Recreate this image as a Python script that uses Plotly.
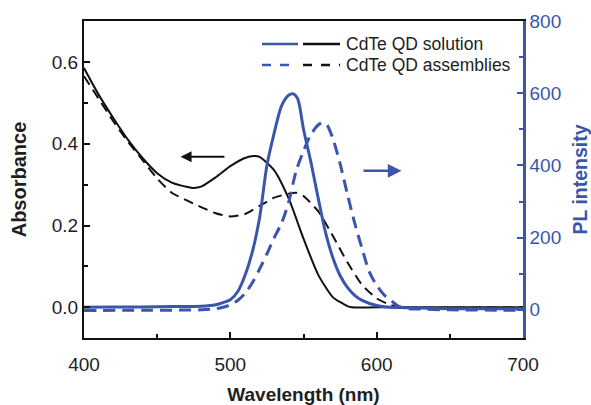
import plotly.graph_objects as go

# Absorbance (left axis)
abs_sol_x = [400, 410, 420, 430, 440, 450, 460, 470, 475, 480, 490, 500, 510, 516, 520, 530, 540, 550, 560, 570, 580, 583, 600, 650, 700]
abs_sol_y = [0.585, 0.52, 0.463, 0.41, 0.365, 0.328, 0.305, 0.295, 0.292, 0.295, 0.318, 0.345, 0.365, 0.37, 0.368, 0.335, 0.265, 0.168, 0.08, 0.025, 0.003, 0.0, 0.0, 0.0, 0.0]

abs_asm_x = [400, 410, 420, 430, 440, 450, 460, 470, 480, 490, 500, 510, 520, 530, 540, 545, 550, 560, 570, 580, 590, 600, 610, 620, 700]
abs_asm_y = [0.565, 0.51, 0.455, 0.405, 0.36, 0.315, 0.28, 0.262, 0.245, 0.23, 0.222, 0.228, 0.248, 0.268, 0.278, 0.28, 0.272, 0.235, 0.175, 0.11, 0.055, 0.022, 0.005, 0.0, 0.0]

# PL intensity (right axis)
pl_sol_x = [400, 420, 440, 460, 480, 490, 495, 500, 505, 510, 515, 520, 525, 530, 535, 540, 543, 546, 550, 555, 560, 565, 570, 575, 580, 585, 590, 600, 610, 620, 640, 660, 700]
pl_sol_y = [7, 8, 8, 9, 10, 14, 20, 28, 50, 95, 160, 255, 400, 490, 565, 595, 598, 585, 500, 410, 310, 215, 145, 95, 62, 40, 26, 12, 7, 6, 4, 3, 3]

pl_asm_x = [400, 440, 480, 490, 495, 500, 505, 510, 515, 520, 525, 530, 535, 540, 545, 550, 555, 560, 563, 566, 570, 575, 580, 585, 590, 595, 600, 605, 610, 615, 620, 630, 650, 700]
pl_asm_y = [-2, -1, 0, 3, 7, 14, 26, 45, 75, 113, 155, 200, 240, 300, 385, 440, 485, 512, 518, 512, 475, 405, 320, 240, 170, 105, 68, 42, 25, 10, 4, 2, 0, -1]

x_ticks = [400, 500, 600, 700]
abs_ticks = [0.0, 0.2, 0.4, 0.6]
pl_ticks = [0, 200, 400, 600, 800]

BLUE = "#3B55AC"
BLACK = "#111111"
TXT = "#1e1e1e"
FONT = "Liberation Sans, Arial, sans-serif"

fig = go.Figure()
fig.add_trace(go.Scatter(x=abs_sol_x, y=abs_sol_y, mode="lines", line=dict(color=BLACK, width=2, shape="spline", smoothing=0.6), name="CdTe QD solution", showlegend=False))
fig.add_trace(go.Scatter(x=abs_asm_x, y=abs_asm_y, mode="lines", line=dict(color=BLACK, width=2, dash="10px,6px", shape="spline", smoothing=0.6), name="CdTe QD assemblies", showlegend=False))
fig.add_trace(go.Scatter(x=pl_sol_x, y=pl_sol_y, mode="lines", line=dict(color=BLUE, width=3, shape="spline", smoothing=0.8), yaxis="y2", showlegend=False))
fig.add_trace(go.Scatter(x=pl_asm_x, y=pl_asm_y, mode="lines", line=dict(color=BLUE, width=3, dash="12px,7px", shape="spline", smoothing=0.8), yaxis="y2", showlegend=False))

fig.update_layout(
    width=591, height=405,
    margin=dict(l=84, r=68, t=21, b=67, autoexpand=False),
    paper_bgcolor="white", plot_bgcolor="white",
    font=dict(family=FONT, size=19, color=TXT),
    xaxis=dict(range=[400, 700], tickvals=x_ticks, ticks="inside", ticklen=6, tickwidth=2, tickcolor=BLACK,
               minor=dict(dtick=50, ticks="inside", ticklen=4, tickwidth=2, tickcolor=BLACK),
               showline=True, linecolor=BLACK, linewidth=2, mirror=True, showgrid=False, zeroline=False,
               ticklabelstandoff=8, automargin=False,
               title=dict(text="<b>Wavelength (nm)</b>", font=dict(size=19), standoff=17),
               tickfont=dict(size=19)),
    yaxis=dict(range=[-0.075, 0.7], tickvals=abs_ticks, tickformat=".1f", ticks="inside", ticklen=6, tickwidth=2, tickcolor=BLACK,
               minor=dict(dtick=0.1, ticks="inside", ticklen=4, tickwidth=2, tickcolor=BLACK),
               showline=True, linecolor=BLACK, linewidth=2, showgrid=False, zeroline=False, automargin=False,
               title=dict(text="<b>Absorbance</b>", font=dict(size=20), standoff=20),
               tickfont=dict(size=19)),
    yaxis2=dict(range=[-78, 800], tickvals=pl_ticks, overlaying="y", side="right", ticks="inside", ticklen=6, tickwidth=2, tickcolor=BLUE,
                minor=dict(dtick=100, ticks="inside", ticklen=4, tickwidth=2, tickcolor=BLUE),
                showline=True, linecolor=BLUE, linewidth=2.5, showgrid=False, zeroline=False, automargin=False,
                title=dict(text="<b>PL intensity</b>", font=dict(size=19.5, color=BLUE), standoff=20),
                tickfont=dict(size=19, color=BLUE)),
    showlegend=False,
)

# Manual legend (paired blue/black line samples)
def px(xv):
    return (xv - 84) / (591 - 84 - 68)

legend_rows = [("CdTe QD solution", None, 44), ("CdTe QD assemblies", "dash", 65)]
for text, dash, ypx in legend_rows:
    yp = 1 - (ypx - 21) / (405 - 21 - 67)
    fig.add_shape(type="line", xref="paper", yref="paper", x0=px(262), x1=px(298), y0=yp, y1=yp,
                  line=dict(color=BLUE, width=2.5, dash=dash))
    fig.add_shape(type="line", xref="paper", yref="paper", x0=px(303), x1=px(340), y0=yp, y1=yp,
                  line=dict(color=BLACK, width=2.5, dash=dash))
    fig.add_annotation(xref="paper", yref="paper", x=px(344), y=yp, text=text, showarrow=False,
                       xanchor="left", yanchor="middle", font=dict(size=17.5, color=TXT))

# Arrows
fig.add_annotation(x=466, y=0.368, ax=497, ay=0.368, xref="x", yref="y", axref="x", ayref="y",
                   showarrow=True, arrowhead=2, arrowsize=1.1, arrowwidth=2, arrowcolor=BLACK, text="")
fig.add_annotation(x=617, y=385, ax=590, ay=385, xref="x", yref="y2", axref="x", ayref="y2",
                   showarrow=True, arrowhead=2, arrowsize=1.1, arrowwidth=2.5, arrowcolor=BLUE, text="")

fig.write_html("out.html", config={"displayModeBar": False},
               post_script="document.body.style.margin='0';document.body.style.overflow='hidden';")
